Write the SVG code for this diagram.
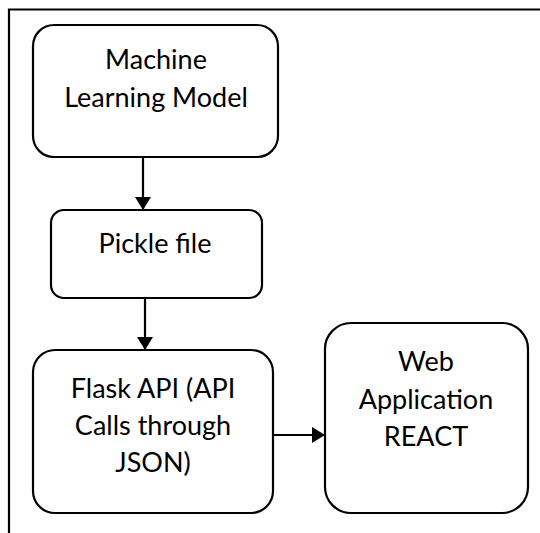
<svg xmlns="http://www.w3.org/2000/svg" width="540" height="533" viewBox="0 0 540 533">
  <style>
    .frame { fill: none; stroke: #000; stroke-width: 2.2; }
    .box { fill: #fff; stroke: #000; stroke-width: 2.2; }
    .label { font-family: Lato, "Open Sans", "Liberation Sans", sans-serif; font-size: 27px; fill: #000; text-anchor: middle; }
    .conn { fill: none; stroke: #000; stroke-width: 2.2; }
  </style>
  <defs>
    <marker id="arrow" viewBox="0 0 13 16" refX="13" refY="8" markerWidth="13" markerHeight="16" markerUnits="userSpaceOnUse" orient="auto">
      <path d="M0,0 L13,8 L0,16 Z" fill="#000"/>
    </marker>
  </defs>

  <rect width="540" height="533" fill="#fff"/>
  <!-- page frame: only top and left edges fall inside the canvas -->
  <path class="frame" d="M9,533 V9.5 H540"/>

  <g id="connectors">
    <line class="conn" x1="143" y1="157" x2="143" y2="210" marker-end="url(#arrow)"/>
    <line class="conn" x1="145" y1="298" x2="145" y2="350" marker-end="url(#arrow)"/>
    <line class="conn" x1="273" y1="435" x2="325" y2="435" marker-end="url(#arrow)"/>
  </g>

  <g id="ml-model">
    <rect class="box" x="33" y="25" width="245" height="132" rx="21" ry="21"/>
    <text class="label" x="156" y="69">Machine</text>
    <text class="label" x="156" y="107">Learning Model</text>
  </g>

  <g id="pickle-file">
    <rect class="box" x="51" y="210" width="211" height="88" rx="13" ry="13"/>
    <text class="label" x="155" y="253">Pickle file</text>
  </g>

  <g id="flask-api">
    <rect class="box" x="33" y="350" width="240" height="163" rx="22" ry="22"/>
    <text class="label" x="153" y="398">Flask API (API</text>
    <text class="label" x="153" y="435">Calls through</text>
    <text class="label" x="153" y="472">JSON)</text>
  </g>

  <g id="web-app">
    <rect class="box" x="325" y="323" width="203" height="190" rx="26" ry="26"/>
    <text class="label" x="426" y="371">Web</text>
    <text class="label" x="426" y="409">Application</text>
    <text class="label" x="426" y="446">REACT</text>
  </g>
</svg>
